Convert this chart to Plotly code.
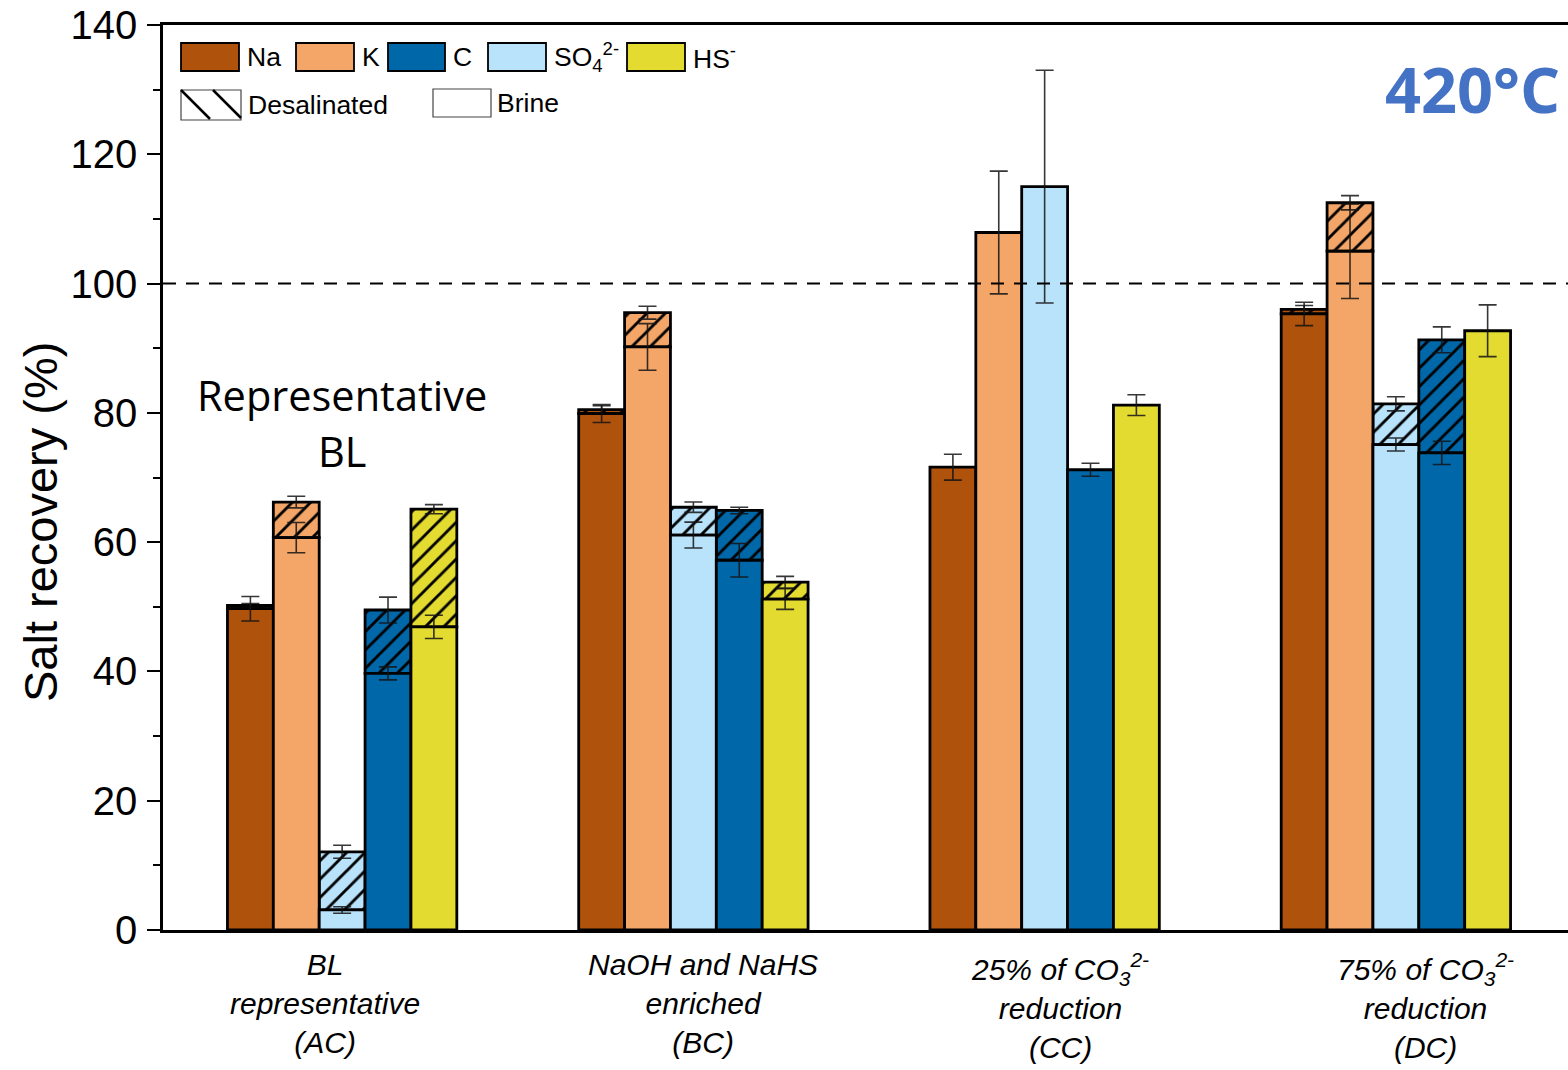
import plotly.graph_objects as go

# Test conditions (x categories) and their axis captions
categories = ["AC", "BC", "CC", "DC"]
category_labels = [
    "BL<br>representative<br>(AC)",
    "NaOH and NaHS<br>enriched<br>(BC)",
    "25% of CO<sub>3</sub><sup>2-</sup><br>reduction<br>(CC)",
    "75% of CO<sub>3</sub><sup>2-</sup><br>reduction<br>(DC)",
]
label_shift = [-17, 10, 15, 30]

# Species, in drawing order inside each group
species = ["Na", "K", "SO4", "C", "HS"]
species_names = {"Na": "Na", "K": "K", "SO4": "SO<sub>4</sub><sup>2-</sup>", "C": "C", "HS": "HS<sup>-</sup>"}
colors = {"Na": "#AF520C", "K": "#F3A668", "SO4": "#B9E3FB", "C": "#0067A9", "HS": "#E4DB31"}

# Recovery in the brine fraction (%)
brine_Na = [49.7, 79.9, 71.6, 95.3]
brine_K = [60.7, 90.2, 107.9, 105.0]
brine_SO4 = [3.1, 61.1, 115.0, 75.1]
brine_C = [39.7, 57.2, 71.2, 73.8]
brine_HS = [46.9, 51.2, 81.2, 92.7]

# Total recovery including the desalinated fraction (%)
total_Na = [50.2, 80.5, None, 96.0]
total_K = [66.2, 95.5, None, 112.5]
total_SO4 = [12.1, 65.4, None, 81.4]
total_C = [49.5, 64.9, None, 91.3]
total_HS = [65.1, 53.8, None, None]

# Standard deviations
brine_err_Na = [1.9, 1.4, 2.0, 1.8]
brine_err_K = [2.35, 3.6, 9.5, 7.3]
brine_err_SO4 = [0.5, 2.0, 18.0, 1.0]
brine_err_C = [1.0, 2.6, 1.0, 1.8]
brine_err_HS = [1.8, 1.6, 1.6, 4.0]

total_err_Na = [0.3, 0.6, None, 0.6]
total_err_K = [0.9, 1.0, None, 1.1]
total_err_SO4 = [1.0, 0.8, None, 1.1]
total_err_C = [2.0, 0.5, None, 2.0]
total_err_HS = [0.7, 0.9, None, None]

brine = {"Na": brine_Na, "K": brine_K, "SO4": brine_SO4, "C": brine_C, "HS": brine_HS}
total = {"Na": total_Na, "K": total_K, "SO4": total_SO4, "C": total_C, "HS": total_HS}
brine_err = {"Na": brine_err_Na, "K": brine_err_K, "SO4": brine_err_SO4, "C": brine_err_C, "HS": brine_err_HS}
total_err = {"Na": total_err_Na, "K": total_err_K, "SO4": total_err_SO4, "C": total_err_C, "HS": total_err_HS}

W, H = 1568, 1070
L, R, T, B = 163, 0, 25, 140
FONT = "Liberation Sans, Arial, sans-serif"
ERR = dict(type="data", visible=True, color="rgba(20,20,20,0.85)", thickness=1.6, width=9)

fig = go.Figure()

# Desalinated part: hatched segment stacked on the brine bar
for i, s in enumerate(species):
    inc = [(t - b) if t is not None else None for t, b in zip(total[s], brine[s])]
    fig.add_trace(go.Bar(
        x=categories, y=inc, base=brine[s],
        offsetgroup=f"{i}_{s}", name=species_names[s] + " desalinated",
        marker=dict(color=colors[s], line=dict(color="black", width=2.8),
                    pattern=dict(shape="/", fgcolor="black", bgcolor=colors[s],
                                 size=13, solidity=0.22, fillmode="replace")),
        error_y=dict(array=[e if e is not None else 0 for e in total_err[s]], **ERR),
        showlegend=False,
    ))

# Brine part
for i, s in enumerate(species):
    fig.add_trace(go.Bar(
        x=categories, y=brine[s],
        offsetgroup=f"{i}_{s}", name=species_names[s] + " brine",
        marker=dict(color=colors[s], line=dict(color="black", width=2.8)),
        error_y=dict(array=brine_err[s], **ERR),
        showlegend=False,
    ))


def px_x(p):
    return (p - L) / (W - L - R)


def px_y(p):
    return (H - B - p) / (H - B - T)


annotations = []
# Category captions under the axis
for c, lab, dx in zip(categories, category_labels, label_shift):
    annotations.append(dict(
        x=c, y=0, xref="x", yref="y", text=lab, showarrow=False,
        yanchor="top", yshift=-16, xshift=dx,
        font=dict(family=FONT, size=30, color="black", style="italic"),
    ))

# Y axis title
annotations.append(dict(x=px_x(40), y=px_y(522), xref="paper", yref="paper",
                        text="Salt recovery (%)", textangle=-90, showarrow=False,
                        xanchor="center", yanchor="middle",
                        font=dict(family=FONT, size=47, color="black")))

# Text labels inside the plot
annotations.append(dict(x="AC", y=82.8, xref="x", yref="y", text="Representative",
                        showarrow=False, font=dict(family="Open Sans, sans-serif", size=41.5, color="black")))
annotations.append(dict(x="AC", y=74.1, xref="x", yref="y", text="BL",
                        showarrow=False, font=dict(family="Open Sans, sans-serif", size=41.5, color="black")))
annotations.append(dict(x=1, y=130.2, xref="paper", yref="y", text="<b>420°C</b>",
                        xanchor="right", yanchor="middle", xshift=-6, showarrow=False,
                        font=dict(family="Open Sans, sans-serif", size=63, color="#4472C4")))

# Custom legend (paper coordinates)
LEG_FONT = dict(family=FONT, size=26.5, color="black")
shapes = []
legend_row1 = [("Na", 181, 239), ("K", 296, 354), ("C", 388, 445), ("SO4", 488, 546), ("HS", 627, 685)]
for s, x0, x1 in legend_row1:
    shapes.append(dict(type="rect", xref="paper", yref="paper",
                       x0=px_x(x0), x1=px_x(x1), y0=px_y(71), y1=px_y(43),
                       fillcolor=colors[s], line=dict(color="black", width=1.8)))
    annotations.append(dict(x=px_x(x1 + 6), y=px_y(57), xref="paper", yref="paper",
                            text=species_names[s], xanchor="left", yanchor="middle",
                            showarrow=False, font=LEG_FONT))

# Desalinated / Brine keys
shapes.append(dict(type="rect", xref="paper", yref="paper",
                   x0=px_x(181), x1=px_x(241), y0=px_y(120), y1=px_y(90),
                   fillcolor="white", line=dict(color="#444", width=1.2)))
for a0, a1 in [((181, 90), (210, 119)), ((213, 90), (241, 118))]:
    shapes.append(dict(type="line", xref="paper", yref="paper",
                       x0=px_x(a0[0]), y0=px_y(a0[1]), x1=px_x(a1[0]), y1=px_y(a1[1]),
                       line=dict(color="black", width=2.5)))
annotations.append(dict(x=px_x(246), y=px_y(105), xref="paper", yref="paper",
                        text="Desalinated", xanchor="left", yanchor="middle",
                        showarrow=False, font=LEG_FONT))
shapes.append(dict(type="rect", xref="paper", yref="paper",
                   x0=px_x(433), x1=px_x(491), y0=px_y(117), y1=px_y(89),
                   fillcolor="white", line=dict(color="#444", width=1.2)))
annotations.append(dict(x=px_x(495), y=px_y(103), xref="paper", yref="paper",
                        text="Brine", xanchor="left", yanchor="middle",
                        showarrow=False, font=LEG_FONT))

# 100 % reference line
shapes.append(dict(type="line", xref="paper", yref="y", x0=0, x1=1, y0=100, y1=100,
                   line=dict(color="black", width=2, dash="13px,10px"), layer="above"))

fig.update_layout(
    width=W, height=H, autosize=False,
    margin=dict(l=L, r=R, t=T, b=B),
    plot_bgcolor="white", paper_bgcolor="white",
    barmode="group", bargap=0.347, bargroupgap=0,
    annotations=annotations, shapes=shapes,
    font=dict(family=FONT, color="black"),
    showlegend=False,
)
fig.update_xaxes(
    type="category", range=[-0.51, 3.49],
    showticklabels=False, ticks="",
    showline=True, linecolor="black", linewidth=2.5, mirror=True,
    showgrid=False, zeroline=False,
)
fig.update_yaxes(
    range=[0, 140], dtick=20, tick0=0,
    ticks="outside", ticklen=13, tickwidth=2, tickcolor="black",
    minor=dict(dtick=10, ticks="outside", ticklen=7, tickwidth=2, tickcolor="black"),
    tickfont=dict(family=FONT, size=40, color="black"),
    ticklabelstandoff=2,
    showline=True, linecolor="black", linewidth=2.5, mirror=False,
    showgrid=False, zeroline=False,
)

fig.write_html("out.html")
